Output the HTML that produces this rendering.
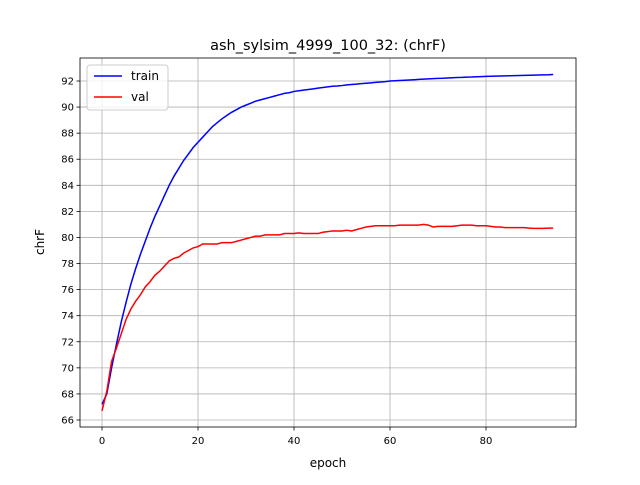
<!DOCTYPE html>
<html><head><meta charset="utf-8"><style>
body{margin:0;background:#fff;}
svg text{font-family:"DejaVu Sans","Liberation Sans",sans-serif;}
</style></head><body>
<svg id="chart" width="640" height="480" xmlns="http://www.w3.org/2000/svg"></svg>
<script>
const xTicks=[0,20,40,60,80];
const yTicks=[66,68,70,72,74,76,78,80,82,84,86,88,90,92];
const trainVals=[67.2,68,70,71.8,73.5,75,76.4,77.6,78.7,79.7,80.7,81.6,82.4,83.2,84,84.7,85.3,85.9,86.4,86.9,87.3,87.7,88.1,88.5,88.8,89.1,89.35,89.6,89.8,90,90.15,90.3,90.45,90.55,90.65,90.75,90.85,90.95,91.05,91.1,91.2,91.25,91.3,91.35,91.4,91.45,91.5,91.55,91.6,91.62,91.65,91.7,91.73,91.76,91.8,91.83,91.86,91.89,91.92,91.95,92,92.02,92.04,92.06,92.08,92.1,92.12,92.14,92.16,92.18,92.2,92.21,92.23,92.25,92.27,92.28,92.3,92.31,92.33,92.34,92.35,92.36,92.37,92.38,92.39,92.4,92.41,92.42,92.43,92.44,92.45,92.46,92.47,92.48,92.5];
const valVals=[66.7,68.2,70.5,71.5,72.6,73.7,74.5,75.1,75.6,76.2,76.6,77.1,77.4,77.8,78.2,78.4,78.5,78.8,79,79.2,79.3,79.5,79.5,79.5,79.5,79.6,79.6,79.6,79.7,79.8,79.9,80,80.1,80.1,80.2,80.2,80.2,80.2,80.3,80.3,80.3,80.35,80.3,80.3,80.3,80.3,80.4,80.45,80.5,80.5,80.5,80.55,80.5,80.6,80.7,80.8,80.85,80.9,80.9,80.9,80.9,80.9,80.95,80.95,80.95,80.95,80.95,81,80.95,80.8,80.85,80.85,80.85,80.85,80.9,80.95,80.95,80.95,80.9,80.9,80.9,80.85,80.8,80.8,80.75,80.75,80.75,80.75,80.75,80.72,80.7,80.7,80.7,80.72,80.72];
const NS="http://www.w3.org/2000/svg";
const svg=document.getElementById('chart');
const L=80,R=576,T=58,B=427;
const xs=v=>102+(v-0)*4.8;
const ys=v=>420-(v-66)*(339/26);
function mk(tag,attrs,parent){const e=document.createElementNS(NS,tag);for(const k in attrs)e.setAttribute(k,attrs[k]);(parent||svg).appendChild(e);return e;}
const grid=mk('g',{});


xTicks.forEach(t=>{mk('line',{x1:xs(t),x2:xs(t),y1:T,y2:B,stroke:'#b0b0b0','stroke-width':0.8},grid);
 mk('line',{x1:xs(t),x2:xs(t),y1:B,y2:B+3.5,stroke:'#000','stroke-width':0.8});
 const tx=mk('text',{x:xs(t),y:B+17,'text-anchor':'middle','font-size':10});tx.textContent=t;
 
 });
yTicks.forEach(t=>{mk('line',{x1:L,x2:R,y1:ys(t),y2:ys(t),stroke:'#b0b0b0','stroke-width':0.8},grid);
 mk('line',{x1:L-3.5,x2:L,y1:ys(t),y2:ys(t),stroke:'#000','stroke-width':0.8});
 const tx=mk('text',{x:L-6,y:ys(t)+3.5,'text-anchor':'end','font-size':10});tx.textContent=t;
 
 });
function line(vals,color,name){const p=mk('polyline',{points:vals.map((v,i)=>xs(i)+','+ys(v)).join(' '),fill:'none',stroke:color,'stroke-width':1.5});
 
 }
line(trainVals,'#0000ff','train-line');
line(valVals,'#ff0000','val-line');
mk('rect',{x:L,y:T,width:R-L,height:B-T,fill:'none',stroke:'#000','stroke-width':0.8});
let t=mk('text',{x:328,y:50,'text-anchor':'middle','font-size':14.5});t.textContent='ash_sylsim_4999_100_32: (chrF)';

t=mk('text',{x:328,y:467,'text-anchor':'middle','font-size':12});t.textContent='epoch';

t=mk('text',{x:44,y:242,'text-anchor':'middle','font-size':12,transform:'rotate(-90 44 242)'});t.textContent='chrF';

const lg=mk('g',{});

mk('rect',{x:87,y:65,width:81,height:45,rx:3,fill:'#fff','fill-opacity':0.8,stroke:'#ccc'},lg);
mk('line',{x1:94,x2:122,y1:76,y2:76,stroke:'#0000ff','stroke-width':1.5},lg);
t=mk('text',{x:131,y:80,'font-size':12},lg);t.textContent='train';
mk('line',{x1:94,x2:122,y1:97,y2:97,stroke:'#ff0000','stroke-width':1.5},lg);
t=mk('text',{x:131,y:101,'font-size':12},lg);t.textContent='val';
</script>
</body></html>
